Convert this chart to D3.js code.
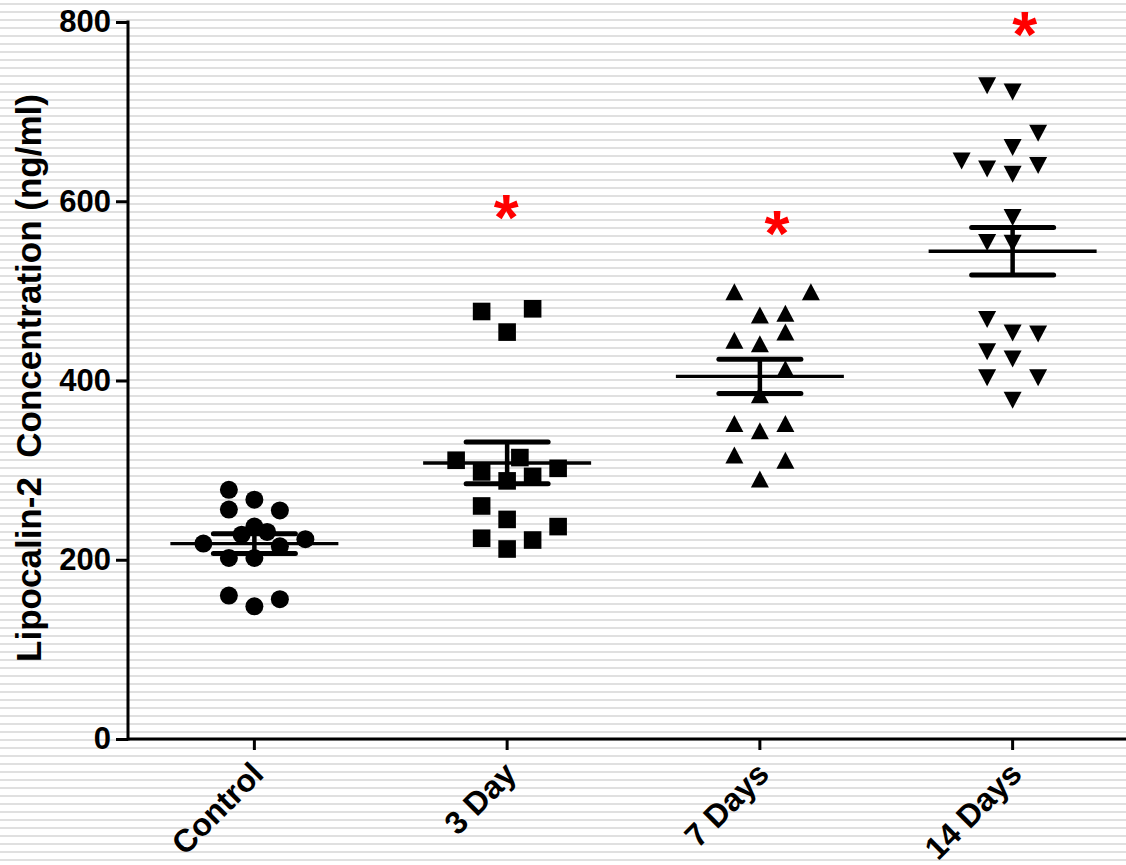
<!DOCTYPE html>
<html>
<head>
<meta charset="utf-8">
<script src="https://cdn.jsdelivr.net/npm/d3@7"></script>
<style>
  html, body { margin: 0; padding: 0; background: #ffffff; }
  svg { display: block; }
  text { font-family: "Liberation Sans", Arial, sans-serif; font-weight: bold; }
</style>
</head>
<body>
<svg id="chart" width="1126" height="865"></svg>
<script>
// Groups on the x axis
const groups = ["Control", "3 Day", "7 Days", "14 Days"];

// Lipocalin-2 concentrations (ng/ml) for each group
const controlValues = [278, 267, 256, 255, 237, 231, 228, 223, 218, 215, 202, 202, 160, 156, 148];
const day3Values    = [477, 480, 454, 311, 314, 298, 288, 293, 302, 260, 245, 237, 224, 222, 212];
const day7Values    = [499, 499, 473, 475, 454, 445, 441, 413, 384, 352, 352, 344, 317, 311, 290];
const day14Values   = [729, 722, 676, 660, 645, 636, 630, 640, 582, 554, 553, 468, 453, 452, 432, 424, 403, 403, 378];

// Horizontal spread slot of each point inside its scatter column
const controlSlots = [-1, 0, -1, 1, 0, 0.5, -0.5, 2, -2, 1, -1, 0, -1, 1, 0];
const day3Slots    = [-1, 1, 0, -2, 0.5, -1, 0, 1, 2, -1, 0, 2, -1, 1, 0];
const day7Slots    = [-1, 2, 0, 1, 1, -1, 0, 1, 0, -1, 1, 0, -1, 1, 0];
const day14Slots   = [-1, 0, 1, 0, -2, -1, 0, 1, 0, -1, 0, -1, 0, 1, -1, 0, -1, 1, 0];

// Group mean and standard error of the mean
const groupMeans = [218, 308, 404.6, 544.2];
const groupSEM   = [11, 23.3, 19, 26.4];

// Y axis tick values
const yTicks = [0, 200, 400, 600, 800];

// Significance markers (group, height in ng/ml)
const sigGroups  = ["3 Day", "7 Days", "14 Days"];
const sigHeights = [591, 574, 795];

const seriesValues = [controlValues, day3Values, day7Values, day14Values];
const seriesSlots  = [controlSlots, day3Slots, day7Slots, day14Slots];
const markerKinds  = ["circle", "square", "triangleUp", "triangleDown"];

const W = 1126, H = 865;
const svg = d3.select("#chart");

// Striped backdrop
svg.append("rect").attr("width", W).attr("height", H).attr("fill", "#ffffff");
svg.append("g").selectAll("rect")
  .data(d3.range(3, H, 8))
  .join("rect")
  .attr("x", 0).attr("y", d => d)
  .attr("width", W).attr("height", 2)
  .attr("fill", "#e0e0e0");

const x = d3.scaleBand().domain(groups).range([128, 1139]).padding(0);
const xc = g => x(g) + x.bandwidth() / 2;
const y = d3.scaleLinear().domain([0, 800]).range([739, 22]);
const slotScale = d3.scaleLinear().domain([-1, 1]).range([-25.5, 25.5]);

// Markers
function markerPath(kind) {
  const s = 17.6, w = 18, h = 17;
  if (kind === "square") return `M${-s/2},${-s/2}h${s}v${s}h${-s}Z`;
  if (kind === "triangleUp") return `M0,${-h/2}L${w/2},${h/2}L${-w/2},${h/2}Z`;
  if (kind === "triangleDown") return `M0,${h/2}L${w/2},${-h/2}L${-w/2},${-h/2}Z`;
  return null;
}

const pointsG = svg.append("g");
groups.forEach((g, i) => {
  const pts = seriesValues[i].map((v, j) => ({ v, slot: seriesSlots[i][j] }));
  const kind = markerKinds[i];
  const sel = pointsG.append("g").selectAll("*").data(pts);
  if (kind === "circle") {
    sel.join("circle")
      .attr("cx", d => xc(g) + slotScale(d.slot))
      .attr("cy", d => y(d.v))
      .attr("r", 9)
      .attr("fill", "#000");
  } else {
    sel.join("path")
      .attr("d", markerPath(kind))
      .attr("transform", d => `translate(${xc(g) + slotScale(d.slot)},${y(d.v)})`)
      .attr("fill", "#000");
  }
});

// Mean line with SEM error bars
const statG = svg.append("g").attr("stroke", "#000").attr("fill", "none");
groups.forEach((g, i) => {
  const cx = xc(g), m = groupMeans[i], e = groupSEM[i];
  statG.append("line")
    .attr("x1", cx - 84).attr("x2", cx + 84)
    .attr("y1", y(m)).attr("y2", y(m))
    .attr("stroke-width", 3.4);
  statG.append("line")
    .attr("x1", cx).attr("x2", cx)
    .attr("y1", y(m + e)).attr("y2", y(m - e))
    .attr("stroke-width", 4.5);
  [m + e, m - e].forEach(v => {
    statG.append("line")
      .attr("x1", cx - 41).attr("x2", cx + 41)
      .attr("y1", y(v)).attr("y2", y(v))
      .attr("stroke-width", 5)
      .attr("stroke-linecap", "round");
  });
});

// Axes
const yAxis = d3.axisLeft(y).tickValues(yTicks).tickSize(12).tickPadding(5).tickFormat(d3.format("d"));
const yAxisG = svg.append("g").attr("transform", "translate(128,0)").call(yAxis);
yAxisG.select(".domain").remove();
yAxisG.selectAll(".tick line").attr("stroke", "#000").attr("stroke-width", 3);
yAxisG.selectAll(".tick text").attr("font-size", 31).attr("fill", "#000")
  .attr("font-family", "Liberation Sans, Arial, sans-serif").attr("font-weight", "bold");
svg.append("line").attr("x1", 128).attr("x2", 128).attr("y1", y(800) - 1.5).attr("y2", y(0) + 1.5)
  .attr("stroke", "#000").attr("stroke-width", 3);

const xAxis = d3.axisBottom(x).tickSize(11).tickFormat("");
const xAxisG = svg.append("g").attr("transform", `translate(0,${y(0)})`).call(xAxis);
xAxisG.select(".domain").remove();
xAxisG.selectAll(".tick line").attr("stroke", "#000").attr("stroke-width", 3);
svg.append("line").attr("x1", 127).attr("x2", W).attr("y1", y(0)).attr("y2", y(0))
  .attr("stroke", "#000").attr("stroke-width", 3);

// Rotated category labels
svg.append("g").selectAll("text")
  .data(groups)
  .join("text")
  .attr("transform", d => `translate(${xc(d) + 11},${776}) rotate(-45)`)
  .attr("text-anchor", "end")
  .attr("font-size", 32)
  .attr("fill", "#000")
  .text(d => d);

// Y axis title
svg.append("text")
  .attr("transform", `translate(41,${378}) rotate(-90)`)
  .attr("text-anchor", "middle")
  .attr("font-size", 35)
  .attr("fill", "#000")
  .attr("xml:space", "preserve")
  .style("white-space", "pre")
  .text("Lipocalin-2  Concentration (ng/ml)");

// Significance asterisks
const sigDx = { "3 Day": -1, "7 Days": 17, "14 Days": 12 };
svg.append("g").selectAll("text")
  .data(sigGroups.map((g, i) => ({ g, v: sigHeights[i] })))
  .join("text")
  .attr("x", d => xc(d.g) + sigDx[d.g])
  .attr("y", d => y(d.v) + 31)
  .attr("text-anchor", "middle")
  .attr("font-size", 64)
  .attr("fill", "#ff0000")
  .text("*");
</script>
</body>
</html>
